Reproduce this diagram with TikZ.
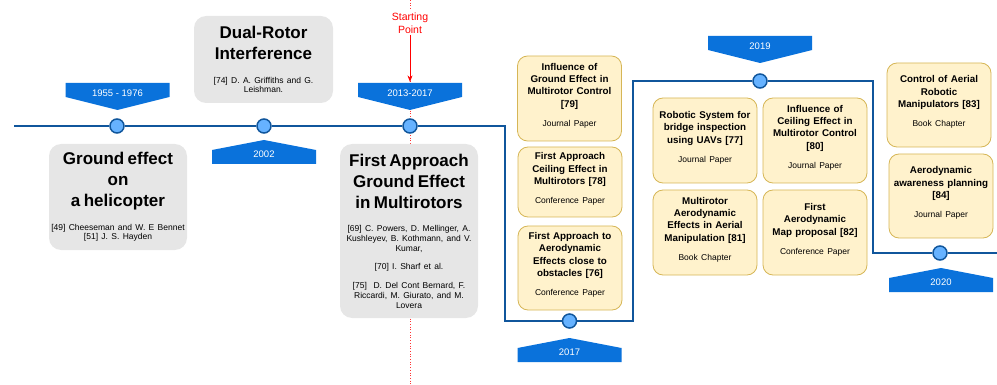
\documentclass[tikz,border=0pt]{standalone}
\usepackage{fontspec}
\setmainfont{Liberation Sans}
\usepackage{xcolor}
\usetikzlibrary{arrows.meta}
\setlength{\parindent}{0pt}

\definecolor{tline}{HTML}{10569C}
\definecolor{dotfill}{HTML}{66B2FF}
\definecolor{bannerblue}{HTML}{0A72DB}
\definecolor{boxgray}{HTML}{E6E6E6}
\definecolor{paperfill}{HTML}{FFF2CC}
\definecolor{paperline}{HTML}{D6B656}

\newcommand{\gtitlefont}{\fontsize{17}{21}\selectfont\bfseries}
\newcommand{\greffont}{\fontsize{8.5}{9.7}\selectfont}
\newcommand{\ptitlefont}{\fontsize{9.8}{12.4}\selectfont\bfseries}
\newcommand{\ptypefont}{\fontsize{8.5}{10}\selectfont}
\newcommand{\liftup}{\par\vspace{6pt}\hrule height 0pt depth 0pt}

\tikzset{
  yeardot/.style={circle, fill=dotfill, draw=tline, line width=1.5pt, minimum size=14pt, inner sep=0pt},
  bannertext/.style={text=white, font=\fontsize{9.5}{11}\selectfont, inner sep=0pt},
  gbox/.style={fill=boxgray, rounded corners=12pt, align=center, inner sep=1pt, text width=136pt},
  paper/.style={fill=paperfill, draw=paperline, line width=0.8pt, rounded corners=10pt, align=center, inner sep=2pt, minimum width=104pt, text width=98pt}
}

\begin{document}
\begin{tikzpicture}[x=1pt, y=-1pt, >=Stealth]
\useasboundingbox (0,0) rectangle (997,385);

% Corners of the timeline
\coordinate (l0) at (14,126);
\coordinate (k1) at (505,126);
\coordinate (k2) at (505,321);
\coordinate (k3) at (633,321);
\coordinate (k4) at (633,81);
\coordinate (k5) at (873,81);
\coordinate (k6) at (873,253);
\coordinate (l1) at (997,253);
\coordinate (top) at (410,0);
\coordinate (bottom) at (410,385);
\coordinate (stop) at (410,82);

% Starting line
\draw[red!80, dotted, line width=0.7pt] (top) -- (bottom);

% Year dots
\node[yeardot] (d1) at (117,126) {};
\node[yeardot] (d2) at (264,126) {};
\node[yeardot] (d3) at (410,126) {};
\node[yeardot] (d4) at (569.5,321) {};
\node[yeardot] (d5) at (760,81) {};
\node[yeardot] (d6) at (940,253) {};

% Timeline
\draw[tline, line width=1.4pt] (l0) -- (d1) -- (d2) -- (d3) -- (k1) -- (k2) -- (d4) -- (k3) -- (k4) -- (d5) -- (k5) -- (k6) -- (d6) -- (l1);

% Year banners
\foreach \cx/\ty/\lab/\nm in {117.5/83/1955 - 1976/a, 410/83/2013-2017/c, 760/36/2019/e} {
  \fill[bannerblue] (\cx-52,\ty) -- ++(104,0) -- ++(0,14) -- (\cx,\ty+27) -- (\cx-52,\ty+14) -- cycle;
  \node[bannertext] (year\nm) at (\cx,\ty+10) {\lab};
}
\foreach \cx/\by/\lab/\nm in {264/164/2002/b, 569.5/362/2017/d, 941/292/2020/f} {
  \fill[bannerblue] (\cx-52,\by) -- ++(104,0) -- ++(0,-14) -- (\cx,\by-24) -- (\cx-52,\by-14) -- cycle;
  \node[bannertext] (year\nm) at (\cx,\by-10) {\lab};
}

% Early works
\node[gbox, minimum width=138pt, minimum height=106pt] (helicopter) at (118,197)
  {{\gtitlefont Ground effect\\on\\a helicopter\par}\vspace{14pt}{\greffont [49] Cheeseman and W. E Bennet\\{}[51] J. S. Hayden\par}};
\node[gbox, minimum width=139pt, minimum height=87pt] (dualrotor) at (263.5,59.5)
  {{\gtitlefont Dual-Rotor\\Interference\par}\vspace{14pt}{\greffont [74] D. A. Griffiths and G.\\Leishman.\par}};
\node[gbox, minimum width=138pt, minimum height=174pt] (firstapproach) at (409,231)
  {{\gtitlefont First Approach\\Ground Effect\\in Multirotors\par}\vspace{14pt}{\greffont [69] C. Powers, D. Mellinger, A.\\Kushleyev, B. Kothmann, and V.\\Kumar,\\[9pt]{}[70] I. Sharf et al.\\[9pt]{}[75]~ D. Del Cont Bernard, F.\\Riccardi, M. Giurato, and M.\\Lovera\par}};

% Papers 2017
\node[paper, minimum height=85pt] (p79) at (569.5,98.5)
  {{\ptitlefont Influence of\\Ground Effect in\\Multirotor Control\\{}[79]\par}\vspace{9pt}{\ptypefont Journal Paper\liftup}};
\node[paper, minimum height=70pt] (p78) at (570,182)
  {{\ptitlefont First Approach\\Ceiling Effect in\\Multirotors [78]\par}\vspace{9pt}{\ptypefont Conference Paper\liftup}};
\node[paper, minimum height=84pt] (p76) at (570,268)
  {{\ptitlefont First Approach to\\Aerodynamic\\Effects close to\\obstacles [76]\par}\vspace{9pt}{\ptypefont Conference Paper\liftup}};

% Papers 2019
\node[paper, minimum height=85pt] (p77) at (705,140.5)
  {{\ptitlefont Robotic System for\\bridge inspection\\using UAVs [77]\par}\vspace{9pt}{\ptypefont Journal Paper\liftup}};
\node[paper, minimum height=85pt] (p80) at (815,140.5)
  {{\ptitlefont Influence of\\Ceiling Effect in\\Multirotor Control\\{}[80]\par}\vspace{9pt}{\ptypefont Journal Paper\liftup}};
\node[paper, minimum height=85pt] (p81) at (705,232.5)
  {{\ptitlefont Multirotor\\Aerodynamic\\Effects in Aerial\\Manipulation [81]\par}\vspace{9pt}{\ptypefont Book Chapter\liftup}};
\node[paper, minimum height=85pt] (p82) at (815,232.5)
  {{\ptitlefont First\\Aerodynamic\\Map proposal [82]\par}\vspace{9pt}{\ptypefont Conference Paper\liftup}};

% Papers 2020
\node[paper, minimum height=84pt] (p83) at (939,105)
  {{\ptitlefont Control of Aerial\\Robotic\\Manipulators [83]\par}\vspace{9pt}{\ptypefont Book Chapter\liftup}};
\node[paper, minimum height=84pt] (p84) at (941,196)
  {{\ptitlefont Aerodynamic\\awareness planning\\{}[84]\par}\vspace{9pt}{\ptypefont Journal Paper\liftup}};

% Starting point
\node[fill=white, text=red, align=center, inner sep=1pt, font=\fontsize{10.5}{13.5}\selectfont] (start) at (410,23) {Starting\\Point};
\draw[->, red, line width=0.8pt] (start) -- (stop);
\end{tikzpicture}
\end{document}
